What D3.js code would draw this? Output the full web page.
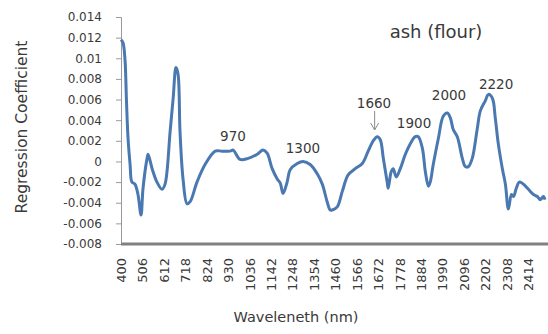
<!DOCTYPE html>
<html>
<head>
<meta charset="utf-8">
<script src="https://cdn.jsdelivr.net/npm/d3@7"></script>
<style>
  body { margin: 0; background: #fff; }
  text { font-family: "DejaVu Sans", sans-serif; fill: #3a3a3a; }
</style>
</head>
<body>
<svg id="chart" width="548" height="334"></svg>
<script>
// Regression coefficient spectrum for ash in flour
const wavelengths = [400, 410, 420, 427, 435, 445, 454, 469, 484, 499, 509, 529, 534, 554, 578, 603, 618, 643, 658, 672, 682, 692, 707, 727, 742, 776, 816, 866, 900, 940, 955, 989, 1029, 1074, 1103, 1123, 1148, 1173, 1188, 1202, 1222, 1237, 1272, 1301, 1336, 1371, 1396, 1420, 1435, 1445, 1470, 1495, 1524, 1559, 1594, 1623, 1648, 1668, 1683, 1698, 1717, 1722, 1737, 1747, 1762, 1782, 1807, 1831, 1856, 1871, 1891, 1906, 1921, 1930, 1945, 1970, 1995, 2015, 2030, 2044, 2064, 2089, 2104, 2119, 2138, 2163, 2178, 2203, 2218, 2238, 2252, 2267, 2287, 2302, 2317, 2332, 2342, 2356, 2371, 2391, 2416, 2441, 2460, 2475, 2490, 2498];
const coefficients = [0.0118, 0.0115, 0.0098, 0.0059, 0.0022, -0.0003, -0.0020, -0.0022, -0.0032, -0.0052, -0.0026, 0.0003, 0.0007, -0.0007, -0.0020, -0.0027, -0.0022, 0.0029, 0.0061, 0.0091, 0.0085, 0.0029, -0.0017, -0.0041, -0.0039, -0.0020, -0.0003, 0.0010, 0.0010, 0.0010, 0.0011, 0.0002, 0.0003, 0.0007, 0.0011, 0.0008, -0.0007, -0.0017, -0.0021, -0.0031, -0.0020, -0.0008, -0.0002, 0.0000, -0.0003, -0.0012, -0.0022, -0.0039, -0.0047, -0.0047, -0.0044, -0.0029, -0.0013, -0.0007, -0.0002, 0.0010, 0.0020, 0.0024, 0.0021, 0.0003, -0.0020, -0.0026, -0.0010, -0.0007, -0.0015, -0.0007, 0.0007, 0.0017, 0.0024, 0.0024, 0.0013, -0.0010, -0.0024, -0.0020, -0.0003, 0.0022, 0.0044, 0.0047, 0.0042, 0.0031, 0.0024, 0.0003, -0.0005, -0.0005, 0.0003, 0.0032, 0.0049, 0.0059, 0.0065, 0.0061, 0.0042, 0.0017, -0.0007, -0.0022, -0.0046, -0.0032, -0.0034, -0.0026, -0.0020, -0.0022, -0.0027, -0.0032, -0.0034, -0.0037, -0.0034, -0.0037];
const xTickValues = [400, 506, 612, 718, 824, 930, 1036, 1142, 1248, 1354, 1460, 1566, 1672, 1778, 1884, 1990, 2096, 2202, 2308, 2414];
const yTickValues = [-0.008, -0.006, -0.004, -0.002, 0, 0.002, 0.004, 0.006, 0.008, 0.01, 0.012, 0.014];
// Band annotations: label text, wavelength and value where each label sits
const bandLabels = ["970", "1300", "1660", "1900", "2000", "2220"];
const bandWavelengths = [954, 1300, 1652, 1850, 2023, 2256];
const bandValues = [0.0020, 0.0008, 0.0052, 0.0032, 0.0060, 0.0070];

const svg = d3.select("#chart");
const x = d3.scaleLinear().domain([400, 2498]).range([121, 545]);
const y = d3.scaleLinear().domain([-0.008, 0.014]).range([244, 17]);

// Y axis
const yAxis = svg.append("g").attr("transform", "translate(121,0)")
  .call(d3.axisLeft(y).tickValues(yTickValues).tickSize(5).tickPadding(14)
    .tickFormat(d => d === 0 ? "0" : String(+d.toFixed(3))));
yAxis.select(".domain").attr("stroke", "#9a9a9a");
yAxis.selectAll(".tick line").attr("stroke", "#9a9a9a");
yAxis.selectAll("text").attr("font-size", 12).style("fill", "#3a3a3a")
  .style("font-family", "DejaVu Sans, sans-serif");

// X axis (category-style labels, rotated)
const xAxis = svg.append("g").attr("transform", "translate(0,244)")
  .call(d3.axisBottom(x).tickValues(xTickValues).tickSize(0).tickFormat(d3.format("d")));
xAxis.select(".domain").remove();
xAxis.selectAll("text")
  .attr("font-size", 13).style("fill", "#3a3a3a")
  .style("font-family", "DejaVu Sans, sans-serif")
  .attr("transform", "rotate(-90)")
  .attr("text-anchor", "end")
  .attr("dx", "-14").attr("dy", "0.35em").attr("y", 0);
svg.append("line").attr("x1", 121).attr("x2", 548).attr("y1", 244).attr("y2", 244)
  .attr("stroke", "#808080").attr("stroke-width", 3);

// Spectrum line
const line = d3.line().x((d, i) => x(wavelengths[i])).y(d => y(d)).curve(d3.curveCatmullRom.alpha(0.5));
svg.append("path").datum(coefficients)
  .attr("d", line).attr("fill", "none")
  .attr("stroke", "#4a78b0").attr("stroke-width", 3).attr("stroke-linejoin", "round");

// Band labels
svg.selectAll(".band").data(bandLabels).enter().append("text")
  .attr("class", "band")
  .attr("x", (d, i) => x(bandWavelengths[i]))
  .attr("y", (d, i) => y(bandValues[i]))
  .attr("text-anchor", "middle").attr("font-size", 13.5).text(d => d);

// Arrow pointing at the 1660 band
const ax = x(1655);
svg.append("line").attr("x1", ax).attr("x2", ax).attr("y1", 111).attr("y2", 130)
  .attr("stroke", "#8a8a8a").attr("stroke-width", 1);
svg.append("path").attr("d", `M${ax - 4},${123} L${ax},${130} L${ax + 4},${123}`)
  .attr("fill", "none").attr("stroke", "#8a8a8a").attr("stroke-width", 1);

// Title
svg.append("text").attr("x", 436).attr("y", 38).attr("text-anchor", "middle")
  .attr("font-size", 18).text("ash (flour)");

// Axis titles
svg.append("text").attr("transform", "translate(27,127) rotate(-90)")
  .attr("text-anchor", "middle").attr("font-size", 15.5).text("Regression Coefficient");
svg.append("text").attr("x", 296).attr("y", 322).attr("text-anchor", "middle")
  .attr("font-size", 14.5).text("Waveleneth (nm)");
</script>
</body>
</html>
